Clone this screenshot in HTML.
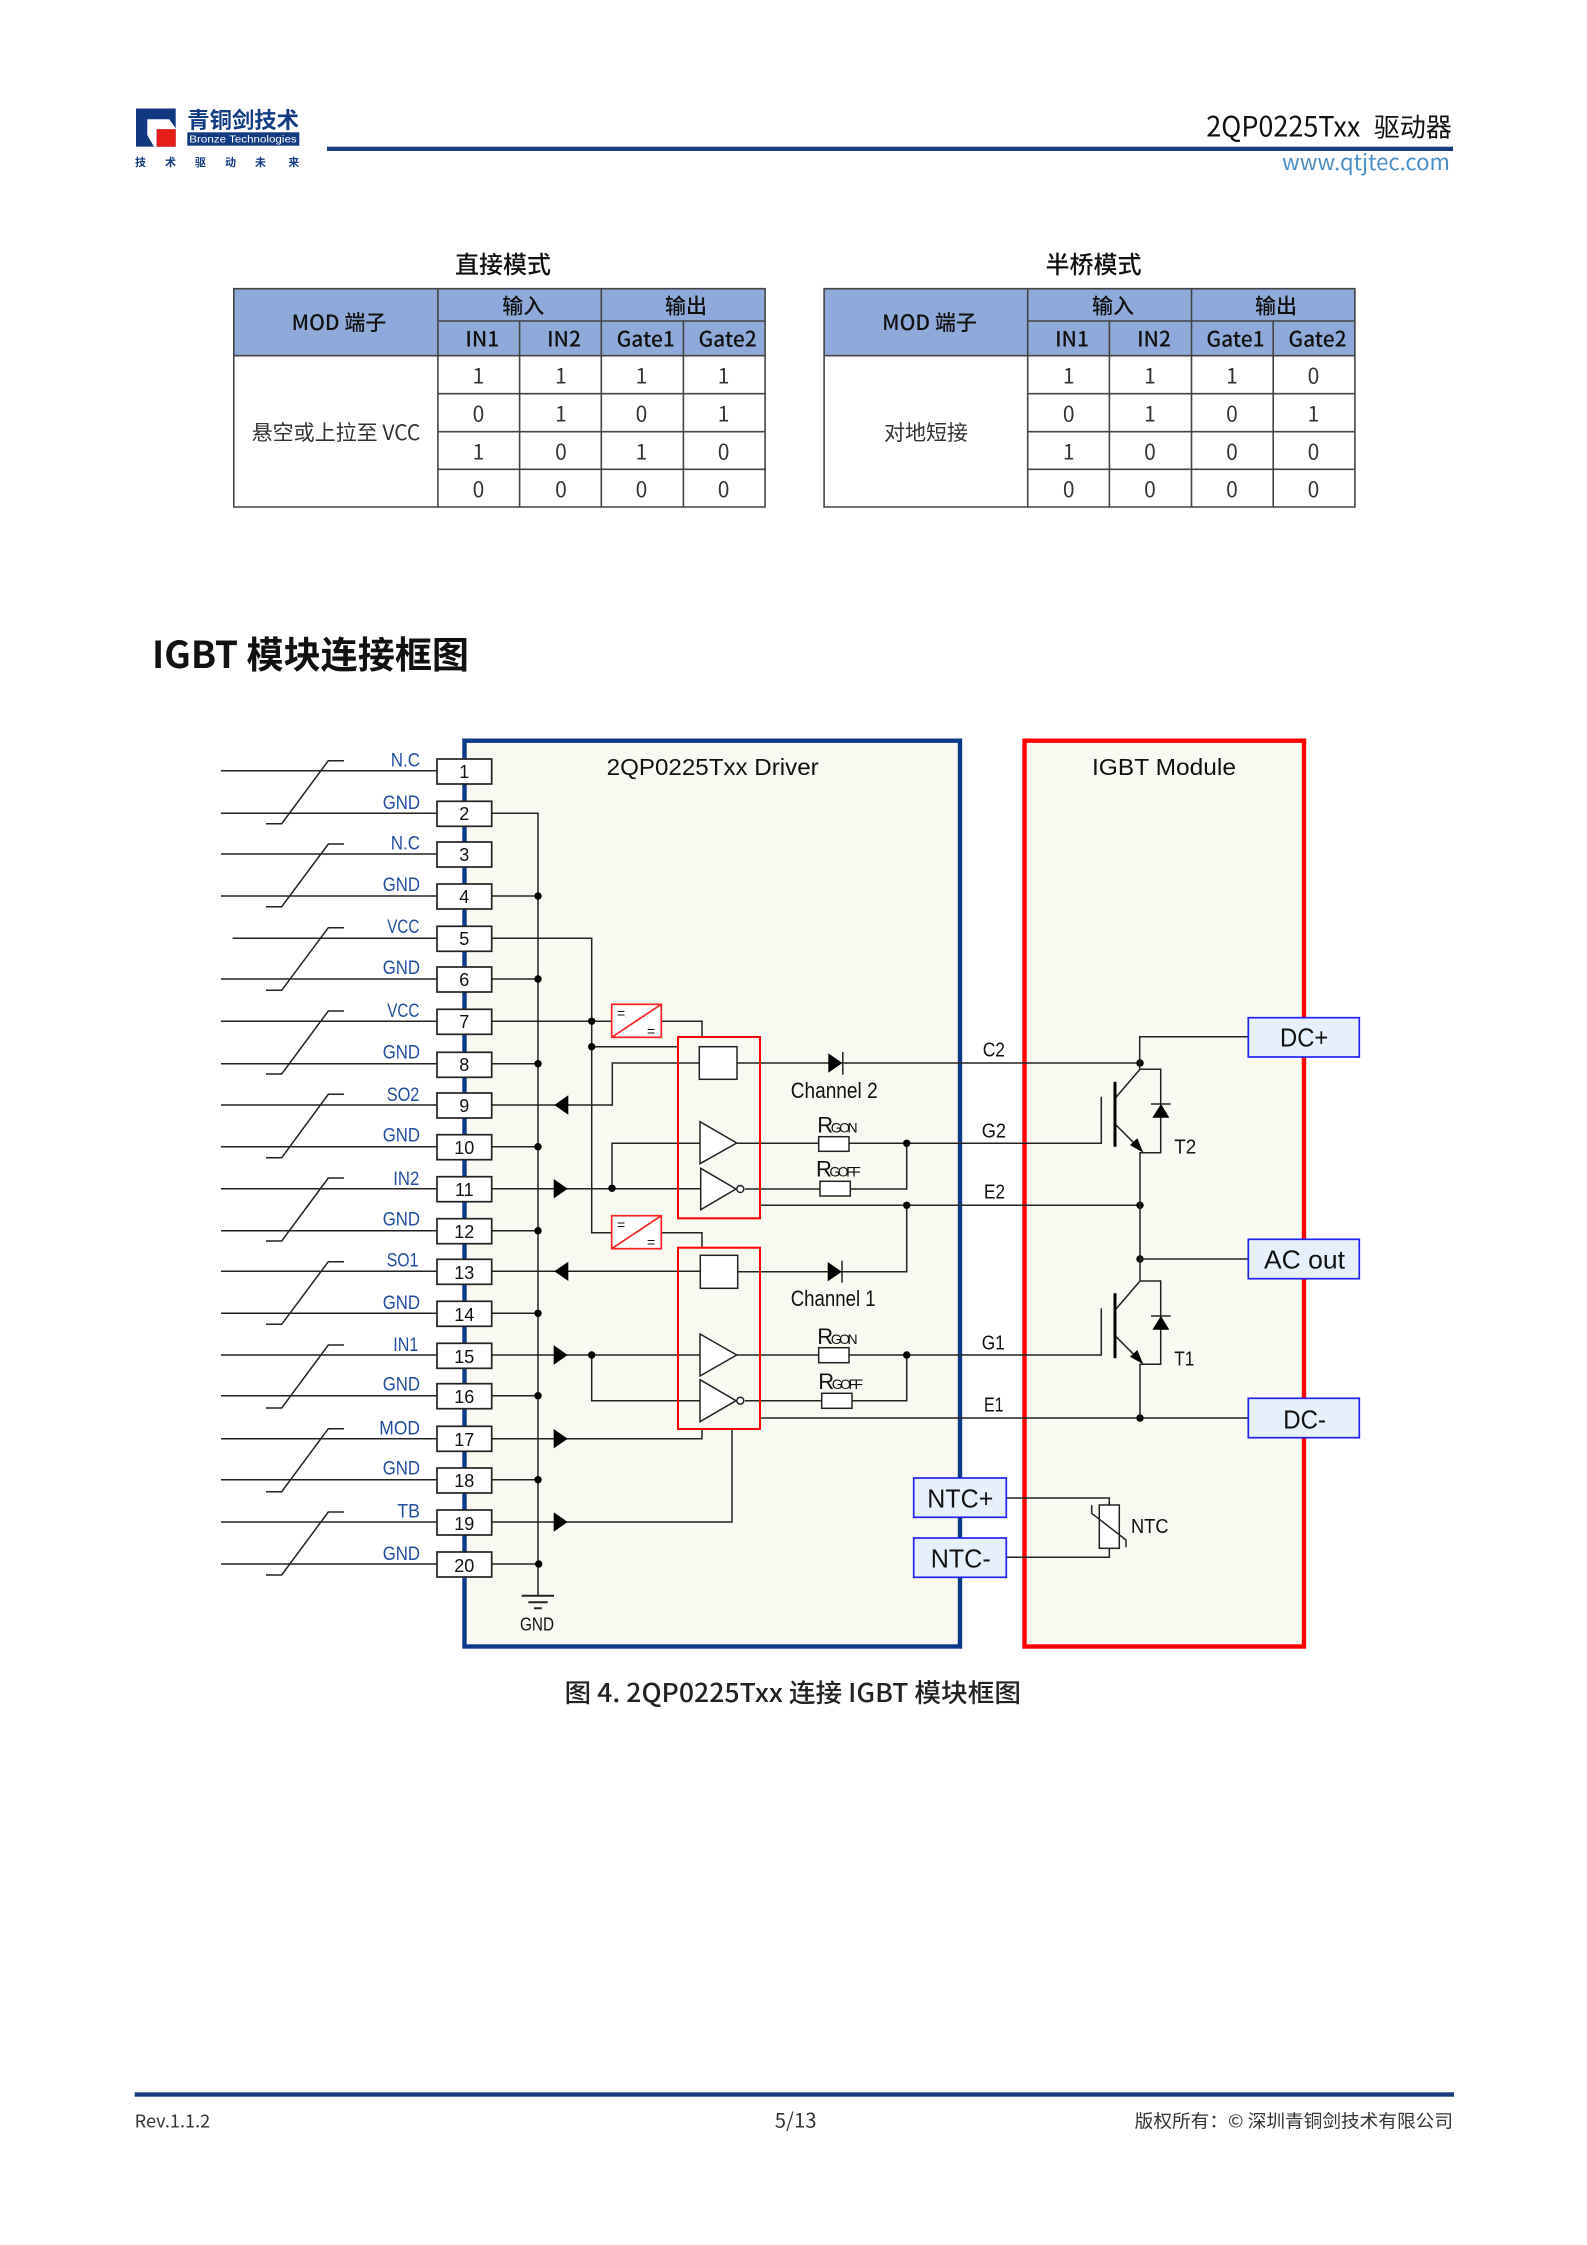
<!DOCTYPE html>
<html lang="zh"><head><meta charset="utf-8"><title>2QP0225Txx</title>
<style>
html,body{margin:0;padding:0;background:#fff}
svg{display:block;position:absolute;left:0;top:0}
.n{font-family:"Noto Sans CJK SC","Liberation Sans",sans-serif}
.l{font-family:"Liberation Sans","Noto Sans CJK SC",sans-serif}
.tb{font-size:21px;fill:#333;text-anchor:middle}
.th{font-size:21px;fill:#111;text-anchor:middle;font-weight:500}
.lb{font-family:"Liberation Sans",sans-serif;font-size:19px;fill:#1f4e9f}
.pn{font-family:"Liberation Sans",sans-serif;font-size:18px;fill:#111;text-anchor:middle}
.sg{font-family:"Liberation Sans",sans-serif;font-size:20px;fill:#111}
.bx{font-family:"Liberation Sans",sans-serif;font-size:26px;fill:#111}
.w{fill:none;stroke:#222;stroke-width:1.5}
.pin{fill:#fff;stroke:#222;stroke-width:1.7}
.blk{fill:#fff;stroke:#222;stroke-width:1.5}
.red{fill:none;stroke:#f00;stroke-width:2}
.cv{fill:#fff;stroke:#f22;stroke-width:1.7}
.port{fill:#e6f0fb;stroke:#22e;stroke-width:1.7}
.tg{stroke:#444;stroke-width:1.6;fill:none}
</style></head><body>
<svg width="1587" height="2245" viewBox="0 0 1587 2245" xmlns="http://www.w3.org/2000/svg">
<rect width="1587" height="2245" fill="#fff"/>

<!-- header -->
<rect x="136" y="108.5" width="39.7" height="38.2" fill="#0f3a80"/>
<polygon points="147.3,119.3 169.3,119.3 175.7,128.3 175.7,129.3 156.7,129.3 156.7,146.7 154,146.7 147.3,135" fill="#fff"/>
<rect x="156.7" y="129.3" width="19" height="17.4" fill="#e61e19"/>
<text class="n" x="187.3" y="128" font-size="22" font-weight="700" fill="#123c82" textLength="111.7" lengthAdjust="spacingAndGlyphs">青铜剑技术</text>
<rect x="187.3" y="132.3" width="112" height="13.4" fill="#123c82"/>
<text class="l" x="189.3" y="142.6" font-size="10.5" fill="#fff" textLength="107.4" lengthAdjust="spacingAndGlyphs">Bronze Technologies</text>
<g class="n" font-size="11" font-weight="700" fill="#123c82" text-anchor="middle">
<text x="140.5" y="166">技</text><text x="170.5" y="166">术</text><text x="200.5" y="166">驱</text><text x="230.5" y="166">动</text><text x="260.5" y="166">未</text><text x="293.8" y="166">来</text>
</g>
<rect x="327" y="146.7" width="1126" height="4.3" fill="#153d7f"/>
<text class="n" x="1206.3" y="136.7" font-size="28" fill="#111" textLength="154" lengthAdjust="spacingAndGlyphs">2QP0225Txx</text>
<text class="n" x="1373.7" y="136.7" font-size="26" fill="#111" textLength="78.2" lengthAdjust="spacingAndGlyphs">驱动器</text>
<text class="n" x="1282" y="170" font-size="22" fill="#4a90c8" textLength="168" lengthAdjust="spacingAndGlyphs">www.qtjtec.com</text>

<!-- table 1 -->
<text class="n" x="503" y="273" font-size="24" font-weight="500" fill="#111" text-anchor="middle">直接模式</text>
<rect x="233.8" y="288.7" width="531.3" height="67" fill="#8eaadb"/>
<path class="tg" d="M233.8 288.7H765.1V507H233.8ZM437.9 288.7V507M437.9 321H765.1M437.9 355.7H765.1M233.8 355.7H437.9M519.6 321V507M601.3 288.7V507M683.4 321V507M437.9 393.7H765.1M437.9 431.7H765.1M437.9 469.3H765.1"/>
<text class="n th" x="339" y="330">MOD 端子</text>
<text class="n th" x="523.3" y="313.5">输入</text><text class="n th" x="686" y="313.5">输出</text>
<text class="n th" x="482.3" y="346.5">IN1</text><text class="n th" x="564" y="346.5">IN2</text><text class="n th" x="645.7" y="346.5">Gate1</text><text class="n th" x="727.6" y="346.5">Gate2</text>
<text class="n tb" x="336" y="440">悬空或上拉至 VCC</text>
<g class="n tb">
<text x="478.5" y="383.5">1</text><text x="561" y="383.5">1</text><text x="641.4" y="383.5">1</text><text x="723.6" y="383.5">1</text>
<text x="478.5" y="421.5">0</text><text x="561" y="421.5">1</text><text x="641.4" y="421.5">0</text><text x="723.6" y="421.5">1</text>
<text x="478.5" y="459.5">1</text><text x="561" y="459.5">0</text><text x="641.4" y="459.5">1</text><text x="723.6" y="459.5">0</text>
<text x="478.5" y="497">0</text><text x="561" y="497">0</text><text x="641.4" y="497">0</text><text x="723.6" y="497">0</text>
</g>

<!-- table 2 -->
<text class="n" x="1093.5" y="273" font-size="24" font-weight="500" fill="#111" text-anchor="middle">半桥模式</text>
<rect x="824.1" y="288.7" width="530.8" height="67" fill="#8eaadb"/>
<path class="tg" d="M824.1 288.7H1354.9V507H824.1ZM1027.7 288.7V507M1027.7 321H1354.9M1027.7 355.7H1354.9M824.1 355.7H1027.7M1109.4 321V507M1191.5 288.7V507M1273.2 321V507M1027.7 393.7H1354.9M1027.7 431.7H1354.9M1027.7 469.3H1354.9"/>
<text class="n th" x="929.5" y="330">MOD 端子</text>
<text class="n th" x="1113" y="313.5">输入</text><text class="n th" x="1276" y="313.5">输出</text>
<text class="n th" x="1072" y="346.5">IN1</text><text class="n th" x="1154" y="346.5">IN2</text><text class="n th" x="1235.5" y="346.5">Gate1</text><text class="n th" x="1317.5" y="346.5">Gate2</text>
<text class="n tb" x="926" y="440">对地短接</text>
<g class="n tb">
<text x="1068.7" y="383.5">1</text><text x="1150" y="383.5">1</text><text x="1232" y="383.5">1</text><text x="1313.5" y="383.5">0</text>
<text x="1068.7" y="421.5">0</text><text x="1150" y="421.5">1</text><text x="1232" y="421.5">0</text><text x="1313.5" y="421.5">1</text>
<text x="1068.7" y="459.5">1</text><text x="1150" y="459.5">0</text><text x="1232" y="459.5">0</text><text x="1313.5" y="459.5">0</text>
<text x="1068.7" y="497">0</text><text x="1150" y="497">0</text><text x="1232" y="497">0</text><text x="1313.5" y="497">0</text>
</g>

<text class="n" x="152" y="668" font-size="37" font-weight="700" fill="#111" textLength="317" lengthAdjust="spacingAndGlyphs">IGBT 模块连接框图</text>

<!-- big boxes -->
<rect x="464.5" y="740.7" width="495.5" height="905.8" fill="#f9f8f1" stroke="#0a3a8a" stroke-width="4.4"/>
<rect x="1024.5" y="740.7" width="279.5" height="905.8" fill="#f9f8f1" stroke="#f00" stroke-width="4.4"/>
<text class="l" x="606.7" y="775" font-size="23" fill="#111" textLength="212" lengthAdjust="spacingAndGlyphs">2QP0225Txx Driver</text>
<text class="l" x="1092" y="775" font-size="23" fill="#111" textLength="144" lengthAdjust="spacingAndGlyphs">IGBT Module</text>

<!-- input wires -->
<path class="w" d="M221 770.7H437M221 813.3H437M221 854H437M221 896H437M232.7 938.3H437M221 979H437M221 1021.3H437M221 1063.7H437M221 1105H437M221 1146.7H437M221 1188.7H437M221 1230.7H437M221 1271.3H437M221 1313.3H437M221 1355H437M221 1395.7H437M221 1438.7H437M221 1479.7H437M221 1522H437M221 1564H437"/>
<!-- shielded pair slashes -->
<path class="w" d="M266 823.7H281.7L328.3 760.7H344M266 906.7H281.7L328.3 844H344M266 990.3H281.7L328.3 927.7H344M266 1074H281.7L328.3 1011H344M266 1157.7H281.7L328.3 1094.3H344M266 1241H281.7L328.3 1178H344M266 1324.3H281.7L328.3 1261.7H344M266 1408H281.7L328.3 1345H344M266 1491.7H281.7L328.3 1428.7H344M266 1575H281.7L328.3 1512H344"/>
<!-- labels -->
<text class="lb" x="390.7" y="766.7" textLength="29.3" lengthAdjust="spacingAndGlyphs">N.C</text>
<text class="lb" x="382.7" y="809" textLength="37.3" lengthAdjust="spacingAndGlyphs">GND</text>
<text class="lb" x="390.7" y="849.7" textLength="29.3" lengthAdjust="spacingAndGlyphs">N.C</text>
<text class="lb" x="382.7" y="891" textLength="37.3" lengthAdjust="spacingAndGlyphs">GND</text>
<text class="lb" x="387.3" y="933" textLength="32" lengthAdjust="spacingAndGlyphs">VCC</text>
<text class="lb" x="382.7" y="974" textLength="37.3" lengthAdjust="spacingAndGlyphs">GND</text>
<text class="lb" x="387.3" y="1017" textLength="32" lengthAdjust="spacingAndGlyphs">VCC</text>
<text class="lb" x="382.7" y="1058.7" textLength="37.3" lengthAdjust="spacingAndGlyphs">GND</text>
<text class="lb" x="386.7" y="1101" textLength="32.7" lengthAdjust="spacingAndGlyphs">SO2</text>
<text class="lb" x="382.7" y="1141.7" textLength="37.3" lengthAdjust="spacingAndGlyphs">GND</text>
<text class="lb" x="393.3" y="1185" textLength="26" lengthAdjust="spacingAndGlyphs">IN2</text>
<text class="lb" x="382.7" y="1225.5" textLength="37.3" lengthAdjust="spacingAndGlyphs">GND</text>
<text class="lb" x="386.7" y="1266.7" textLength="31.7" lengthAdjust="spacingAndGlyphs">SO1</text>
<text class="lb" x="382.7" y="1309" textLength="37.3" lengthAdjust="spacingAndGlyphs">GND</text>
<text class="lb" x="393.3" y="1351" textLength="25" lengthAdjust="spacingAndGlyphs">IN1</text>
<text class="lb" x="382.7" y="1390.5" textLength="37.3" lengthAdjust="spacingAndGlyphs">GND</text>
<text class="lb" x="379.3" y="1434.5" textLength="40.7" lengthAdjust="spacingAndGlyphs">MOD</text>
<text class="lb" x="382.7" y="1474.5" textLength="37.3" lengthAdjust="spacingAndGlyphs">GND</text>
<text class="lb" x="397.3" y="1517.7" textLength="22.7" lengthAdjust="spacingAndGlyphs">TB</text>
<text class="lb" x="382.7" y="1560" textLength="37.3" lengthAdjust="spacingAndGlyphs">GND</text>

<!-- internal wiring -->
<path class="w" d="M492 813.3H538V1595.7M492 896H538M492 979H538M492 1063.7H538M492 1146.7H538M492 1230.7H538M492 1313.3H538M492 1395.7H538M492 1479.7H538M492 1564H538"/>
<path class="w" d="M492 938.3H591.7V1232.7H611.7M492 1021.3H611.7M661.3 1021.3H702V1037M661.3 1232.7H702V1247.7M591.7 1046.7H678"/>
<path class="w" d="M492 1105H612.3V1063H699.3M737 1063H1140M492 1188.7H700.7M612 1188.7V1143.3H700M736.7 1143.3H1101.3V1096.7M745 1189H906.7V1143.3M760 1205.3H1140M906.7 1205.3V1271.7H737.7M492 1271.3H700.3M492 1355H700M591.7 1355V1400.7H700M736.7 1355H1101.3V1308.3M745 1400.7H906.7V1355M760 1418H1248.3M492 1438.7H702V1429M492 1522H732V1429"/>
<!-- ground -->
<path d="M521.7 1595.7H554M528.3 1602.3H547.7M534 1608.3H541.7" fill="none" stroke="#222" stroke-width="2"/>
<text class="l" x="520" y="1630.7" font-size="18" fill="#111" textLength="34" lengthAdjust="spacingAndGlyphs">GND</text>

<!-- pins -->
<g class="pin">
<rect x="437" y="759" width="54.7" height="25"/><rect x="437" y="801.3" width="54.7" height="25"/><rect x="437" y="842" width="54.7" height="25"/><rect x="437" y="884" width="54.7" height="25"/><rect x="437" y="926.3" width="54.7" height="25"/><rect x="437" y="967" width="54.7" height="25"/><rect x="437" y="1009.3" width="54.7" height="25"/><rect x="437" y="1052.3" width="54.7" height="25"/><rect x="437" y="1093" width="54.7" height="25"/><rect x="437" y="1134.7" width="54.7" height="25"/><rect x="437" y="1176.7" width="54.7" height="25"/><rect x="437" y="1218.7" width="54.7" height="25"/><rect x="437" y="1259.3" width="54.7" height="25"/><rect x="437" y="1301.3" width="54.7" height="25"/><rect x="437" y="1343.3" width="54.7" height="25"/><rect x="437" y="1383.7" width="54.7" height="25"/><rect x="437" y="1426.3" width="54.7" height="25"/><rect x="437" y="1468" width="54.7" height="25"/><rect x="437" y="1510" width="54.7" height="25"/><rect x="437" y="1552" width="54.7" height="25"/>
</g>
<g class="pn">
<text x="464.3" y="778">1</text><text x="464.3" y="820">2</text><text x="464.3" y="861">3</text><text x="464.3" y="903">4</text><text x="464.3" y="945">5</text><text x="464.3" y="986">6</text><text x="464.3" y="1028">7</text><text x="464.3" y="1071">8</text><text x="464.3" y="1112">9</text><text x="464.3" y="1154">10</text><text x="464.3" y="1196">11</text><text x="464.3" y="1238">12</text><text x="464.3" y="1279">13</text><text x="464.3" y="1321">14</text><text x="464.3" y="1363">15</text><text x="464.3" y="1403">16</text><text x="464.3" y="1446">17</text><text x="464.3" y="1487">18</text><text x="464.3" y="1530">19</text><text x="464.3" y="1572">20</text>
</g>

<!-- arrows -->
<g fill="#000">
<polygon points="554.3,1105 568.3,1095.3 568.3,1114.7"/>
<polygon points="554.3,1271.3 568.3,1261.6 568.3,1281"/>
<polygon points="567.7,1188.7 553.7,1179 553.7,1198.4"/>
<polygon points="567.7,1355 553.7,1345.3 553.7,1364.7"/>
<polygon points="567.7,1438.7 553.7,1429 553.7,1448.4"/>
<polygon points="567.7,1522 553.7,1512.3 553.7,1531.7"/>
<!-- nodes -->
<circle cx="538" cy="896" r="3.7"/><circle cx="538" cy="979" r="3.7"/><circle cx="538" cy="1063.7" r="3.7"/><circle cx="538" cy="1146.7" r="3.7"/><circle cx="538" cy="1230.7" r="3.7"/><circle cx="538" cy="1313.3" r="3.7"/><circle cx="538" cy="1395.7" r="3.7"/><circle cx="538" cy="1479.7" r="3.7"/><circle cx="538.7" cy="1564" r="3.7"/>
<circle cx="591.7" cy="1021.3" r="3.7"/><circle cx="591.7" cy="1046.7" r="3.7"/><circle cx="612" cy="1188.3" r="3.7"/><circle cx="591.7" cy="1355" r="3.7"/>
<circle cx="906.7" cy="1143.3" r="3.7"/><circle cx="906.7" cy="1205.3" r="3.7"/><circle cx="906.7" cy="1355" r="3.7"/>
<circle cx="1140" cy="1063" r="3.7"/><circle cx="1140" cy="1205.3" r="3.7"/><circle cx="1140" cy="1259" r="3.7"/><circle cx="1140" cy="1418" r="3.7"/>
<!-- diodes -->
<polygon points="842.3,1063 828.3,1053.3 828.3,1072.7"/>
<polygon points="841.7,1271.7 827.7,1262 827.7,1281.4"/>
</g>
<path class="w" d="M842.8 1052V1074.7M842 1260.7V1282.7"/>

<!-- converters -->
<g class="cv"><rect x="611.7" y="1004.3" width="49.6" height="33"/><path d="M661.3 1004.3L611.7 1037.3"/><rect x="611.7" y="1215.7" width="49.6" height="33"/><path d="M661.3 1215.7L611.7 1248.7"/></g>
<g class="l" font-size="14" fill="#111">
<text x="617" y="1018">=</text><text x="647" y="1036">=</text><text x="617" y="1229.5">=</text><text x="647" y="1247">=</text>
</g>

<!-- channel blocks -->
<rect class="blk" x="699.3" y="1046.7" width="37.7" height="32.6"/>
<rect class="blk" x="700.3" y="1255.3" width="37.4" height="33"/>
<polygon class="blk" points="700,1121.7 736.7,1143 700,1163.7"/>
<polygon class="blk" points="700.7,1168.3 736,1189 700.7,1209.7"/>
<circle class="blk" cx="740.3" cy="1189" r="3.5"/>
<polygon class="blk" points="700,1334 736.7,1355 700,1376"/>
<polygon class="blk" points="700,1379.7 736,1400.7 700,1421.7"/>
<circle class="blk" cx="740.3" cy="1400.7" r="3.5"/>
<rect class="red" x="678" y="1037" width="82" height="181.3"/>
<rect class="red" x="678" y="1247.7" width="82" height="181.3"/>

<!-- resistors -->
<rect class="blk" x="818.7" y="1136.7" width="30.3" height="14.6"/>
<rect class="blk" x="820" y="1181.3" width="30.3" height="14.7"/>
<rect class="blk" x="818.7" y="1347.7" width="30.3" height="15"/>
<rect class="blk" x="821.7" y="1393.3" width="30.3" height="15"/>
<g class="l" fill="#111">
<text x="817.3" y="1132.3" font-size="22" letter-spacing="-2.5">R<tspan font-size="14">GON</tspan></text>
<text x="816" y="1176.7" font-size="22" letter-spacing="-2.5">R<tspan font-size="14">GOFF</tspan></text>
<text x="817.3" y="1344" font-size="22" letter-spacing="-2.5">R<tspan font-size="14">GON</tspan></text>
<text x="818.3" y="1389" font-size="22" letter-spacing="-2.5">R<tspan font-size="14">GOFF</tspan></text>
</g>
<text class="l" x="790.7" y="1098" font-size="22" fill="#111" textLength="87" lengthAdjust="spacingAndGlyphs">Channel 2</text>
<text class="l" x="790.7" y="1306" font-size="22" fill="#111" textLength="85" lengthAdjust="spacingAndGlyphs">Channel 1</text>
<text class="sg" x="982.7" y="1056.7" textLength="22.3" lengthAdjust="spacingAndGlyphs">C2</text>
<text class="sg" x="981.7" y="1137.3" textLength="24.3" lengthAdjust="spacingAndGlyphs">G2</text>
<text class="sg" x="984" y="1198.3" textLength="21" lengthAdjust="spacingAndGlyphs">E2</text>
<text class="sg" x="981.7" y="1349.3" textLength="23" lengthAdjust="spacingAndGlyphs">G1</text>
<text class="sg" x="984" y="1411.7" textLength="19.5" lengthAdjust="spacingAndGlyphs">E1</text>

<!-- IGBT T2 -->
<path class="w" d="M1248.3 1036.7H1139.7V1069.3M1140 1069.3L1116 1097.3M1116 1125L1142 1151M1140 1069.3H1160.7V1152.7H1140V1281M1151 1104H1170.7M1140 1259H1248.3"/>
<path d="M1115 1081.7V1146.7" stroke="#000" stroke-width="3" fill="none"/>
<polygon points="1143.3,1152.7 1130,1145 1137.3,1138.3" fill="#000"/>
<polygon points="1161,1104 1152.3,1117.7 1169.3,1117.7" fill="#000"/>
<text class="l" x="1174.3" y="1153.3" font-size="20" fill="#111" textLength="22" lengthAdjust="spacingAndGlyphs">T2</text>
<!-- IGBT T1 -->
<path class="w" d="M1140 1281L1116 1309M1116 1336.7L1142 1362.7M1140 1281H1160.7V1364.3H1140V1418M1151 1316H1170.7"/>
<path d="M1115 1293.3V1358.3" stroke="#000" stroke-width="3" fill="none"/>
<polygon points="1143.3,1364.3 1130,1356.7 1137.3,1350" fill="#000"/>
<polygon points="1161,1316 1152.3,1329.7 1169.3,1329.7" fill="#000"/>
<text class="l" x="1174.3" y="1365.3" font-size="20" fill="#111" textLength="20" lengthAdjust="spacingAndGlyphs">T1</text>

<!-- NTC -->
<path class="w" d="M1006 1498H1109.3V1505M1006 1557.3H1109.3V1548.3"/>
<rect class="blk" x="1099.3" y="1505" width="20" height="43.3"/>
<path class="w" d="M1091.7 1505.3V1513.3L1126 1540V1547.3"/>
<text class="l" x="1131" y="1533" font-size="20" fill="#111" textLength="37.5" lengthAdjust="spacingAndGlyphs">NTC</text>

<!-- ports -->
<g class="port">
<rect x="1248.3" y="1017.7" width="111" height="39.3"/><rect x="1248.3" y="1239.3" width="111" height="39.4"/><rect x="1248.3" y="1398.3" width="111" height="39.4"/>
<rect x="913.7" y="1478" width="92.6" height="39.3"/><rect x="913.7" y="1538" width="92.6" height="39.3"/>
</g>
<text class="bx" x="1280" y="1046.7" textLength="48.3" lengthAdjust="spacingAndGlyphs">DC+</text>
<text class="bx" x="1264" y="1268.7" textLength="81" lengthAdjust="spacingAndGlyphs">AC out</text>
<text class="bx" x="1283.3" y="1428.3" textLength="42.7" lengthAdjust="spacingAndGlyphs">DC-</text>
<text class="bx" x="927.3" y="1507.7" textLength="66" lengthAdjust="spacingAndGlyphs">NTC+</text>
<text class="bx" x="930.7" y="1567.7" textLength="60" lengthAdjust="spacingAndGlyphs">NTC-</text>

<!-- caption -->
<text class="n" x="564.5" y="1702" font-size="25.5" font-weight="500" fill="#222" textLength="456.5" lengthAdjust="spacingAndGlyphs">图 4. 2QP0225Txx 连接 IGBT 模块框图</text>

<!-- footer -->
<rect x="134.7" y="2092.3" width="1319.3" height="4.4" fill="#153d7f"/>
<text class="n" x="134.7" y="2127.7" font-size="18" fill="#333" textLength="75.5" lengthAdjust="spacingAndGlyphs">Rev.1.1.2</text>
<text class="n" x="774.8" y="2127.7" font-size="20" fill="#333" textLength="41.7" lengthAdjust="spacingAndGlyphs">5/13</text>
<text class="n" x="1134.7" y="2127.7" font-size="18" fill="#333" textLength="318.3" lengthAdjust="spacingAndGlyphs">版权所有：© 深圳青铜剑技术有限公司</text>
</svg>
</body></html>
